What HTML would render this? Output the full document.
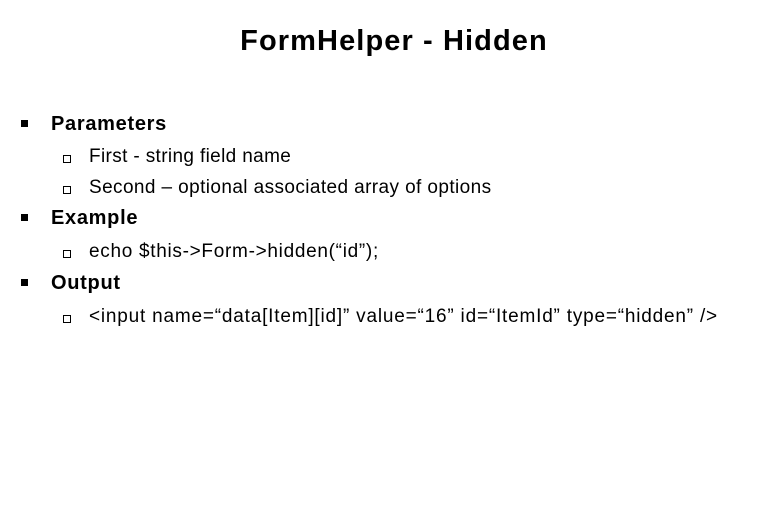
<!DOCTYPE html>
<html><head><meta charset="utf-8"><style>
body{margin:0;width:774px;height:527px;background:#fff;font-family:"Liberation Sans",sans-serif;color:#000;position:relative;overflow:hidden}
.t{position:absolute;left:7px;width:774px;text-align:center;top:25px;font-size:29px;font-weight:bold;letter-spacing:1.1px}
.l{position:absolute;white-space:nowrap}
.b1{font-size:20px;font-weight:bold;left:51px;letter-spacing:0.7px}
.b1::before{content:"";position:absolute;left:-30px;top:7px;width:7px;height:7px;background:#000}
.b2{font-size:19px;left:89px;letter-spacing:0.4px}
.b2::before{content:"";position:absolute;left:-26px;top:9px;width:6px;height:6px;border:1px solid #000}
</style></head><body>
<div class="t">FormHelper - Hidden</div>
<div class="l b1" style="top:113px">Parameters</div>
<div class="l b2" style="top:146px;letter-spacing:0.36px">First - string field name</div>
<div class="l b2" style="top:177px">Second – optional associated array of options</div>
<div class="l b1" style="top:207px">Example</div>
<div class="l b2" style="top:241px;letter-spacing:0.7px">echo $this-&gt;Form-&gt;hidden(“id”);</div>
<div class="l b1" style="top:272px">Output</div>
<div class="l b2" style="top:306px;letter-spacing:0.8px">&lt;input name=“data[Item][id]” value=“16” id=“ItemId” type=“hidden” /&gt;</div>
</body></html>
